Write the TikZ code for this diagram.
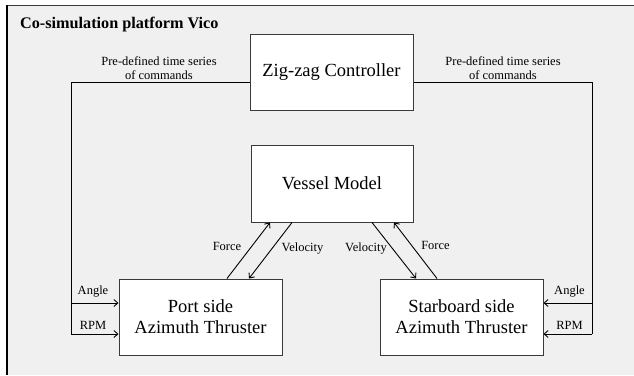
\documentclass[tikz,border=0pt]{standalone}
\usepackage{fontspec}
\setmainfont{Liberation Serif}
\usetikzlibrary{arrows.meta}
\definecolor{panel}{HTML}{F0F0F0}
\definecolor{edge}{HTML}{3A3A3A}
\begin{document}
\begin{tikzpicture}[x=1pt,y=-1pt,
  block/.style={draw=edge,line width=1pt,fill=white,minimum width=163pt,minimum height=76pt,
    inner sep=0pt,align=center,font=\fontsize{18.5}{21}\selectfont},
  flow/.style={line width=0.9pt,-{Straight Barb[length=4pt,width=7pt]}},
  wire/.style={line width=0.9pt},
  lbl/.style={font=\fontsize{12.5}{14}\selectfont,inner sep=0pt,align=center}]
\useasboundingbox (0,0) rectangle (634,375);
% platform panel
\fill[panel] (7,5) rectangle (634,375);
\draw[edge,line width=1pt] (634,5) -- (7,5);
\draw[black,line width=1.3pt] (7,5) -- (7,375);
\node[anchor=base west,inner sep=0pt,font=\fontsize{16.2}{18}\selectfont\bfseries] (title) at (20,28) {Co-simulation platform Vico};

% blocks
\node[block] (ctrl) at (331.5,72) {Zig-zag Controller};
\node[block,minimum width=162pt,minimum height=77pt] (vessel) at (332,183.5) {Vessel Model};
\node[block] (port) at (200.5,317) {Port side\\Azimuth Thruster};
\node[block] (star) at (461.5,317) {Starboard side\\Azimuth Thruster};

% command lines from the controller
\coordinate (lt) at (71,82);
\coordinate (la) at (71,303);
\coordinate (lr) at (71,334);
\coordinate (rt) at (592,82);
\coordinate (ra) at (592,303);
\coordinate (rr) at (592,334);
\draw[wire] (ctrl.west |- lt) -- (lt) -- (lr);
\draw[flow] (la) -- (port.west |- la);
\draw[flow] (lr) -- (port.west |- lr);
\draw[wire] (ctrl.east |- rt) -- (rt) -- (rr);
\draw[flow] (ra) -- (star.east |- ra);
\draw[flow] (rr) -- (star.east |- rr);

\node[lbl] (lcmd) at (159,68) {Pre-defined time series\\of commands};
\node[lbl] (rcmd) at (503,68) {Pre-defined time series\\of commands};
\node[lbl] (la-l) at (93,292) {Angle};
\node[lbl] (lr-l) at (93,325) {RPM};
\node[lbl] (ra-l) at (569.5,292) {Angle};
\node[lbl] (rr-l) at (569.5,325) {RPM};

% force / velocity exchange
\draw[flow] ([xshift=26.5pt]port.north) -- ([xshift=-62pt]vessel.south);
\draw[flow] ([xshift=-40pt]vessel.south) -- ([xshift=48.5pt]port.north);
\draw[flow] ([xshift=40pt]vessel.south) -- ([xshift=-45.5pt]star.north);
\draw[flow] ([xshift=-24.5pt]star.north) -- ([xshift=62pt]vessel.south);

\node[lbl] (pf) at (227,246) {Force};
\node[lbl] (pv) at (302.5,249) {Velocity};
\node[lbl] (sv) at (366,249) {Velocity};
\node[lbl] (sf) at (435.5,245) {Force};
\end{tikzpicture}
\end{document}
